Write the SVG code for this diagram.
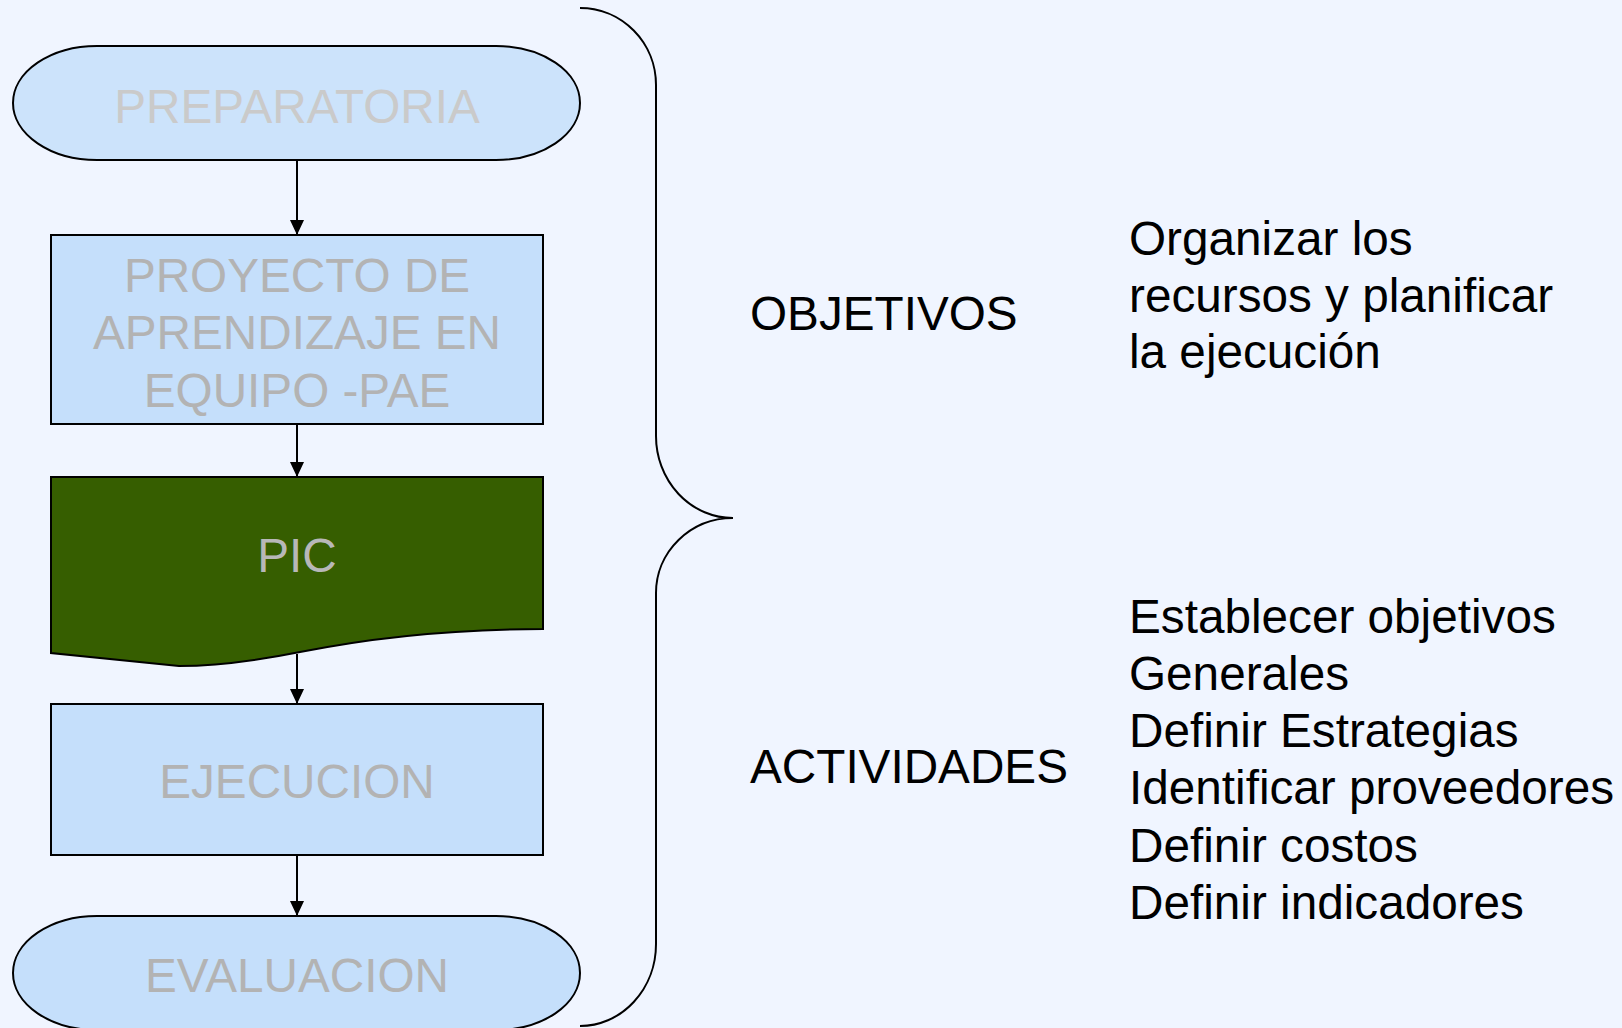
<svg xmlns="http://www.w3.org/2000/svg" width="1622" height="1028" viewBox="0 0 1622 1028">
<style>
text{font-family:"Liberation Sans",Arial,sans-serif;font-size:47.7px}
.node{fill:#c5dffb;stroke:#000;stroke-width:2}
.nt{fill:#b3b3b3;text-anchor:middle}
.lab{fill:#000}
.conn{stroke:#000;stroke-width:2;fill:none}
</style>
<defs>
<marker id="ah" viewBox="0 0 15 14" refX="15" refY="7" markerWidth="15" markerHeight="14" markerUnits="userSpaceOnUse" orient="auto">
<path d="M0,0 L15,7 L0,14 Z" fill="#000"/>
</marker>
</defs>
<rect width="1622" height="1028" fill="#f0f5ff"/>
<g id="n-preparatoria">
<path class="node" style="fill:#cce3fb" d="M97,46 L496,46 A84,57 0 0 1 496,160 L97,160 A84,57 0 0 1 97,46 Z"/>
<text class="nt" x="297" y="123" style="fill:#cacaca">PREPARATORIA</text>
</g>
<g id="n-pae">
<rect class="node" x="51" y="235" width="492" height="189"/>
<text class="nt" x="297" y="292">PROYECTO DE</text>
<text class="nt" x="297" y="349">APRENDIZAJE EN</text>
<text class="nt" x="297" y="407">EQUIPO -PAE</text>
</g>
<g id="n-pic">
<path d="M51,653 L51,477 L543,477 L543,629 C440,629 360,640 300,652 C250,662 210,666 179,666 Z" fill="#365e00" stroke="#000" stroke-width="2"/>
<text class="nt" x="297" y="572" style="fill:#b8b8b8">PIC</text>
</g>
<g id="n-ejecucion">
<rect class="node" x="51" y="704" width="492" height="151"/>
<text class="nt" x="297" y="798">EJECUCION</text>
</g>
<g id="n-evaluacion">
<path class="node" d="M97,916 L496,916 A84,57 0 0 1 496,1030 L97,1030 A84,57 0 0 1 97,916 Z"/>
<text class="nt" x="297" y="992">EVALUACION</text>
</g>
<g id="connectors">
<line class="conn" x1="297" y1="160" x2="297" y2="235" marker-end="url(#ah)"/>
<line class="conn" x1="297" y1="424" x2="297" y2="477" marker-end="url(#ah)"/>
<line class="conn" x1="297" y1="654" x2="297" y2="704" marker-end="url(#ah)"/>
<line class="conn" x1="297" y1="855" x2="297" y2="916" marker-end="url(#ah)"/>
</g>
<g id="brace">
<path class="conn" d="M580,8 A76,77 0 0 1 656,85 L656,436 A77,82 0 0 0 733,518 A77,75 0 0 0 656,593 L656,944 A76,82 0 0 1 580,1026"/>
</g>
<g id="labels">
<text class="lab" x="750" y="330">OBJETIVOS</text>
<text class="lab" x="1129" y="255">Organizar los</text>
<text class="lab" x="1129" y="312">recursos y planificar</text>
<text class="lab" x="1129" y="368">la ejecución</text>
<text class="lab" x="750" y="783">ACTIVIDADES</text>
<text class="lab" x="1129" y="633">Establecer objetivos</text>
<text class="lab" x="1129" y="690">Generales</text>
<text class="lab" x="1129" y="747">Definir Estrategias</text>
<text class="lab" x="1129" y="804">Identificar proveedores</text>
<text class="lab" x="1129" y="862">Definir costos</text>
<text class="lab" x="1129" y="919">Definir indicadores</text>
</g>
</svg>
